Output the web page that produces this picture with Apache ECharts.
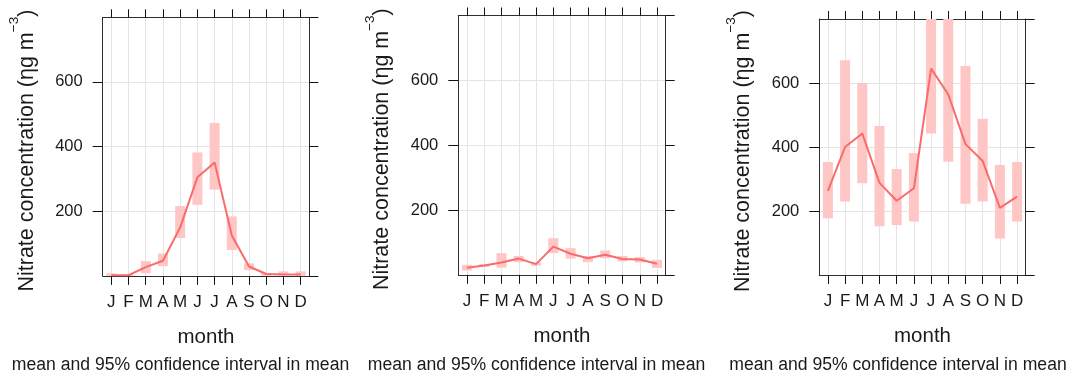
<!DOCTYPE html>
<html>
<head>
<meta charset="utf-8">
<script src="https://cdn.jsdelivr.net/npm/echarts@6/dist/echarts.min.js"></script>
<style>
html,body{margin:0;padding:0;background:#fff;}
#chart{width:1069px;height:376px;}
</style>
</head>
<body>
<div id="chart"></div>
<script>
// ---- data ----
const months = ['Jan','Feb','Mar','Apr','May','Jun','Jul','Aug','Sep','Oct','Nov','Dec'];
const monthLabels = ['J','F','M','A','M','J','J','A','S','O','N','D'];
const yTicks = [0, 200, 400, 600, 800];

const mean1 = [2, 2, 27, 47, 150, 305, 351, 125, 29, 6, 4, 4];
const lower1 = [0, 0, 8, 30, 117, 220, 267, 80, 18, 0, 2, 0];
const upper1 = [8, 4, 46, 69, 216, 382, 473, 184, 39, 9, 14, 14];

const mean2 = [22, 29, 38, 50, 33, 87, 65, 51, 62, 49, 47, 34];
const lower2 = [13, 24, 22, 39, 28, 67, 50, 39, 51, 41, 38, 21];
const upper2 = [31, 33, 67, 58, 38, 113, 82, 58, 75, 58, 55, 46];

const mean3 = [263, 400, 442, 288, 232, 271, 645, 564, 409, 356, 210, 245];
const lower3 = [177, 230, 287, 152, 156, 167, 442, 354, 223, 230, 114, 167];
const upper3 = [353, 671, 600, 466, 331, 381, 860, 860, 653, 488, 344, 353];

const yTitle = 'Nitrate concentration (ηg m';
const xTitle = 'month';
const caption = 'mean and 95% confidence interval in mean';

// ---- layout ----
const FONT = '"Liberation Sans", Arial, sans-serif';
const TXT = '#1a1a1a';
const BOX = '#2e2e2e';
const GRID = '#e4e4e4';
const LINE = '#fa6b6b';
const BAR = '#ffc6c6';

const grids = [
  {left: 102.7, top: 17.3, width: 206.6, height: 258.6},
  {left: 458.3, top: 15.5, width: 207.4, height: 259.3},
  {left: 819.3, top: 19.0, width: 206.4, height: 256.0}
];
const panels = [
  {mean: mean1, lower: lower1, upper: upper1},
  {mean: mean2, lower: lower2, upper: upper2},
  {mean: mean3, lower: lower3, upper: upper3}
];
const captionX = [180.5, 536.5, 898];

const option = {
  animation: false,
  backgroundColor: '#fff',
  textStyle: {fontFamily: FONT},
  grid: grids.map(g => Object.assign({containLabel: false}, g)),
  xAxis: [],
  yAxis: [],
  series: [],
  graphic: captionX.map(x => ({
    type: 'text', x: x, y: 365,
    style: {text: caption, fill: TXT, font: '17.6px ' + FONT, textAlign: 'center', textVerticalAlign: 'middle'}
  }))
};

grids.forEach((g, k) => {
  // bottom x axis
  option.xAxis.push({
    type: 'category', gridIndex: k, position: 'bottom', data: months, boundaryGap: true,
    axisLine: {show: true, onZero: false, lineStyle: {color: BOX, width: 1}},
    axisTick: {show: true, alignWithLabel: true, interval: 0, length: 9, lineStyle: {color: '#111', width: 1}},
    axisLabel: {show: true, interval: 0, margin: 18, color: TXT, fontSize: 17, fontFamily: FONT,
      formatter: (v, i) => monthLabels[i]},
    splitLine: {show: true, alignWithLabel: true, interval: 0, lineStyle: {color: GRID, width: 1}},
    name: xTitle, nameLocation: 'middle', nameGap: 51,
    nameTextStyle: {color: TXT, fontSize: 20.5, fontFamily: FONT}
  });
  // top x axis (ticks only)
  option.xAxis.push({
    type: 'category', gridIndex: k, position: 'top', data: months, boundaryGap: true,
    axisLine: {show: true, onZero: false, lineStyle: {color: BOX, width: 1}},
    axisTick: {show: true, alignWithLabel: true, interval: 0, length: 8, lineStyle: {color: '#111', width: 1}},
    axisLabel: {show: false, interval: 0},
    splitLine: {show: false}
  });
  // left y axis
  option.yAxis.push({
    type: 'value', gridIndex: k, position: 'left', min: yTicks[0], max: yTicks[yTicks.length - 1], interval: 200,
    axisLine: {show: true, onZero: false, lineStyle: {color: BOX, width: 1}},
    axisTick: {show: true, length: 10, lineStyle: {color: '#111', width: 1}},
    axisLabel: {show: true, margin: 20, color: TXT, fontSize: 16.5, fontFamily: FONT,
      showMinLabel: false, showMaxLabel: false,
      formatter: v => (v === yTicks[0] || v === yTicks[yTicks.length - 1]) ? '' : String(v)},
    splitLine: {show: true, lineStyle: {color: GRID, width: 1}},
    name: '{m|' + yTitle + '}{s|−3}{m|)}',
    nameLocation: 'middle', nameGap: 65, nameRotate: 90,
    nameTextStyle: {
      padding: [0, 8, 0, 0],
      rich: {
        m: {fontSize: 21.5, fontFamily: FONT, color: TXT, lineHeight: 30, verticalAlign: 'bottom'},
        s: {fontSize: 13.5, fontFamily: FONT, color: TXT, lineHeight: 14, verticalAlign: 'top'}
      }
    }
  });
  // right y axis (ticks only)
  option.yAxis.push({
    type: 'value', gridIndex: k, position: 'right', min: yTicks[0], max: yTicks[yTicks.length - 1], interval: 200,
    axisLine: {show: true, onZero: false, lineStyle: {color: BOX, width: 1}},
    axisTick: {show: true, length: 9, lineStyle: {color: '#111', width: 1}},
    axisLabel: {show: false},
    splitLine: {show: false}
  });

  const p = panels[k];
  option.series.push({
    type: 'custom', xAxisIndex: 2 * k, yAxisIndex: 2 * k, z: 3,
    renderItem: function (params, api) {
      const i = api.value(0);
      const lo = api.coord([i, api.value(1)]);
      const hi = api.coord([i, api.value(2)]);
      const w = 10;
      const cs = params.coordSys;
      const shape = echarts.graphic.clipRectByRect(
        {x: hi[0] - w / 2, y: hi[1], width: w, height: lo[1] - hi[1]},
        {x: cs.x, y: cs.y, width: cs.width, height: cs.height}
      );
      if (!shape) return null;
      return {type: 'rect', shape: shape, style: {fill: BAR}};
    },
    data: months.map((m, i) => [i, p.lower[i], p.upper[i]])
  });
  option.series.push({
    type: 'line', xAxisIndex: 2 * k, yAxisIndex: 2 * k, z: 4,
    data: p.mean, symbol: 'none', smooth: false,
    lineStyle: {color: LINE, width: 2}
  });
});

const chart = echarts.init(document.getElementById('chart'), null, {renderer: 'canvas'});
chart.setOption(option);
</script>
</body>
</html>
